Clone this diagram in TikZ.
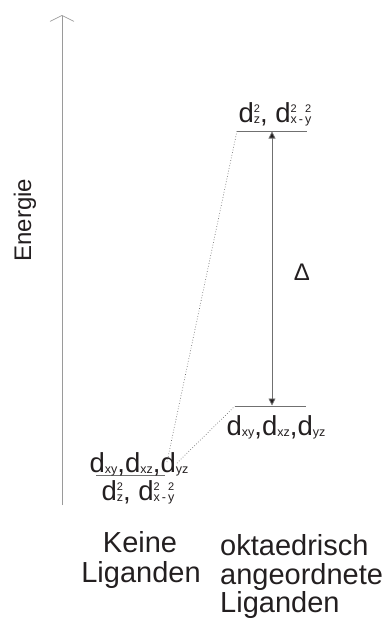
\documentclass[tikz,border=0pt]{standalone}
\usepackage{fontspec}
\setmainfont{Liberation Sans}
\usetikzlibrary{arrows.meta}
\definecolor{ink}{HTML}{231F20}
\definecolor{lvl}{HTML}{707070}
\definecolor{axisgray}{HTML}{9A9A9A}
\newcommand{\dsub}[1]{\raisebox{-1.5pt}{\fontsize{12.5}{12.5}\selectfont #1}}
\newcommand{\dsup}[1]{\raisebox{10pt}{\fontsize{11}{11}\selectfont #1}}
\newcommand{\dstk}[2]{\makebox[0pt][l]{\dsup{#2}}\dsub{#1}}
\tikzset{
  lbl/.style={inner sep=0pt, anchor=base, text=ink},
  orb/.style={lbl, font=\fontsize{27.5}{27.5}\selectfont},
  big/.style={lbl, font=\fontsize{29}{29}\selectfont},
  level/.style={draw=lvl, line width=0.8pt},
  corr/.style={draw=lvl, line width=0.7pt, dotted},
}
\begin{document}
\begin{tikzpicture}[x=1pt,y=-1pt]
\useasboundingbox (0,0) rectangle (390,619);
% energy axis
\coordinate (ax0) at (62,505);
\coordinate (ax1) at (62,15);
\draw[axisgray, line width=0.7pt, -{Straight Barb[length=6pt,width=24pt]}] (ax0) -- (ax1);
\node[inner sep=0pt, text=ink, rotate=90, font=\fontsize{24}{24}\selectfont] (energie) at (25,220) {Energie};
% levels
\coordinate (tl) at (237,131);
\coordinate (tr) at (307,131);
\coordinate (bl) at (235,406);
\coordinate (br) at (306,406);
\coordinate (ll) at (96,475);
\coordinate (lr) at (165,475);
\draw[level] (tl) -- (tr);
\draw[level] (bl) -- (br);
\draw[level] (ll) -- (lr);
% labels of levels
\node[orb] (toplab) at (275,122) {d\dstk{z}{2}, d\dstk{x}{2}\dsub{\,-\,}\dstk{y}{2}};
\node[orb] (botlab) at (276,435) {d\dsub{xy},d\dsub{xz},d\dsub{yz}};
\node[orb] (leftlab1) at (139,472) {d\dsub{xy},d\dsub{xz},d\dsub{yz}};
\node[orb] (leftlab2) at (138,500) {d\dstk{z}{2}, d\dstk{x}{2}\dsub{\,-\,}\dstk{y}{2}};
% correlation lines
\coordinate (c1) at (167,462);
\coordinate (c2) at (177,463);
\draw[corr] (c1) -- (tl);
\draw[corr] (c2) -- (bl);
% splitting arrow
\coordinate (d1) at (272,131.5);
\coordinate (d2) at (272,405.5);
\draw[lvl, line width=0.8pt, {Triangle[length=7pt,width=7pt,fill=ink]}-{Triangle[length=7pt,width=7pt,fill=ink]}] (d1) -- (d2);
\node[lbl, font=\fontsize{24}{24}\selectfont] (delta) at (302,280) {Δ};
% bottom labels
\node[big] (k1) at (140,552) {Keine};
\node[big] (k2) at (141,582) {Liganden};
\node[big, anchor=base west] (o1) at (220,555) {oktaedrisch};
\node[big, anchor=base west] (o2) at (220,584) {angeordnete};
\node[big, anchor=base west] (o3) at (220,612) {Liganden};
\end{tikzpicture}
\end{document}
